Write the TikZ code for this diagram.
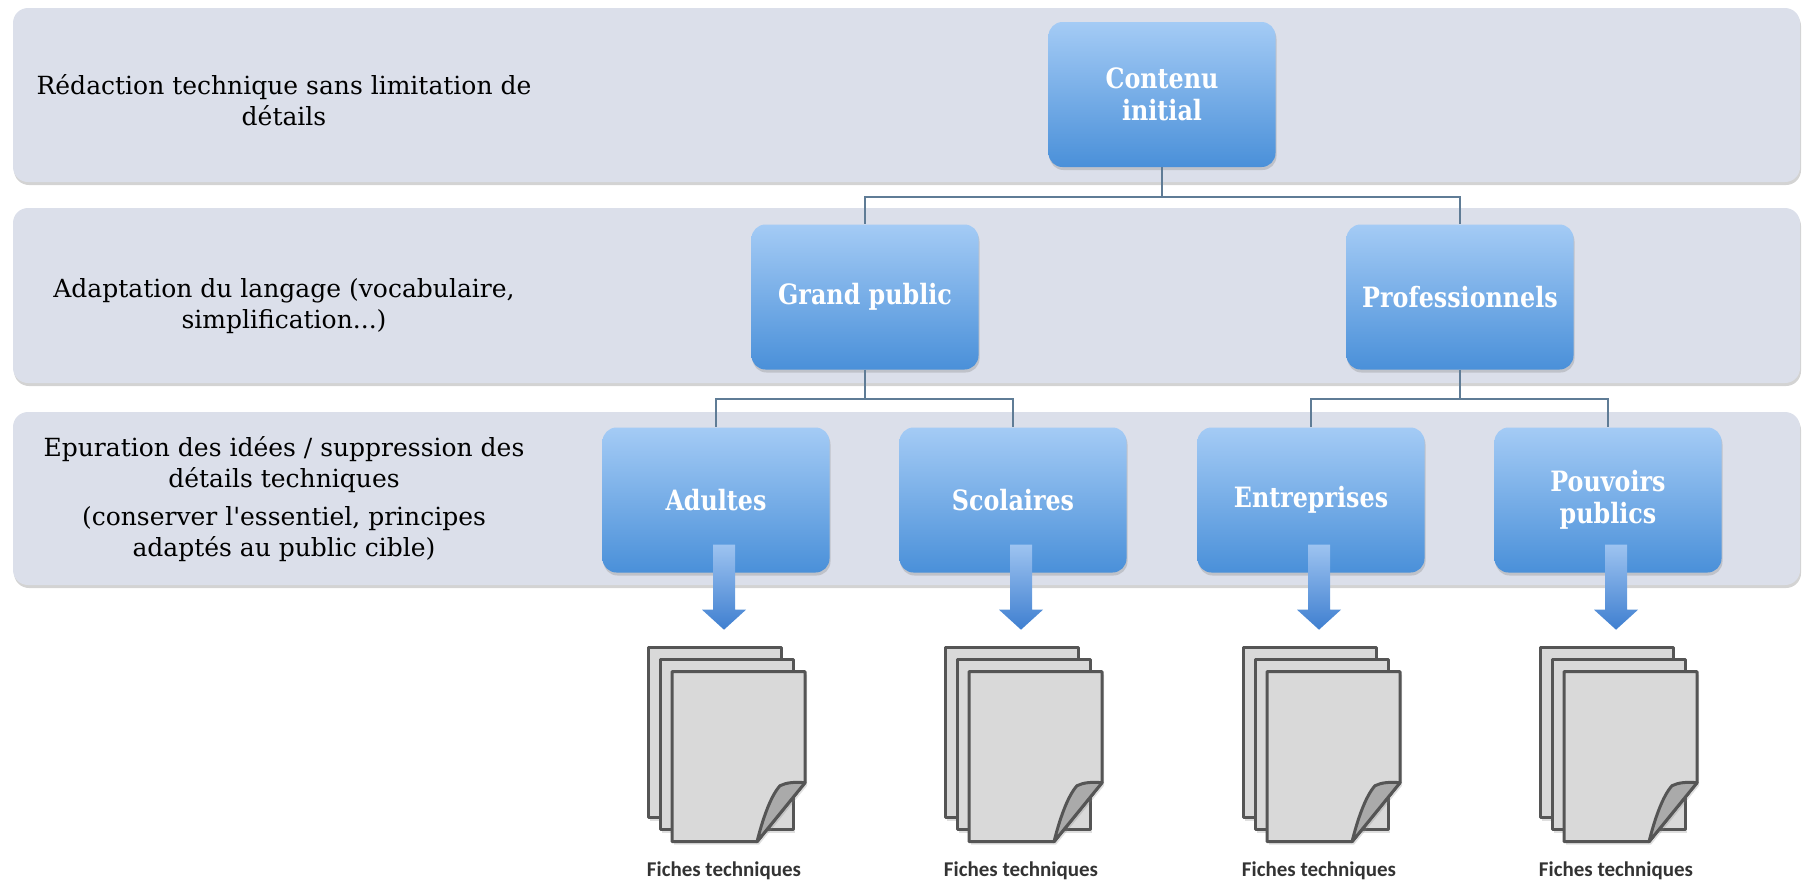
\documentclass[tikz,border=0pt]{standalone}
\usepackage{fontspec}
\setmainfont{DejaVu Serif}
\newfontfamily\boxfont[FakeStretch=0.85]{DejaVu Serif}
\newfontfamily\docfont{Carlito}
\usetikzlibrary{shadows,calc}

\definecolor{bandgray}{RGB}{219,223,234}
\definecolor{boxtop}{RGB}{164,203,245}
\definecolor{boxbot}{RGB}{74,144,217}
\definecolor{arrtop}{RGB}{157,195,240}
\definecolor{arrbot}{RGB}{63,127,208}
\definecolor{linkcol}{RGB}{95,124,150}
\definecolor{pagegray}{RGB}{217,217,217}
\definecolor{flapgray}{RGB}{170,170,170}
\definecolor{pageline}{RGB}{85,85,85}

\tikzset{
  band/.style={fill=bandgray, rounded corners=15pt, drop shadow={shadow xshift=1pt, shadow yshift=-3pt, opacity=.35}},
  lefttext/.style={align=center, font=\fontsize{25}{31}\selectfont, text=black},
  box/.style={rounded corners=14pt, top color=boxtop, bottom color=boxbot, minimum width=227pt, minimum height=145pt, align=center, text=white, font=\boxfont\bfseries\fontsize{28}{32}\selectfont, drop shadow={shadow xshift=1pt, shadow yshift=-3pt, opacity=.3}},
  link/.style={draw=linkcol, line width=2pt},
  page/.style={fill=pagegray, draw=pageline, line width=3pt, line join=round, drop shadow={shadow xshift=2pt, shadow yshift=-3pt, opacity=.25}},
  doclabel/.style={font=\docfont\bfseries\fontsize{21}{24}\selectfont, text=black!80}
}

\begin{document}
\begin{tikzpicture}[x=1pt, y=-1pt]
\useasboundingbox (0,0) rectangle (1803,884);

\foreach \t/\b in {8/182, 208/383, 412/585} \path[band] (13,\t) rectangle (1800,\b);

\node [lefttext] (t1) at (284,100) {Rédaction technique sans limitation de\\détails};
\node [lefttext] (t2) at (284,306) {Adaptation du langage (vocabulaire,\\simplification...)};
\node [lefttext] (t3) at (284,499) {Epuration des idées / suppression des\\détails techniques\\[7pt](conserver l\textquotesingle essentiel, principes\\adaptés au public cible)};

\node [box] (root) at (1162,94.5) {Contenu\\initial};
\node [box] (pub) at (865,297) {Grand public};
\node [box] (pro) at (1460,297) {Professionnels};
\node [box] (adu) at (716,500) {Adultes};
\node [box] (sco) at (1013,500) {Scolaires};
\node [box] (ent) at (1311,500) {Entreprises};
\node [box] (pou) at (1608,500) {Pouvoirs\\publics};

\coordinate (bus1) at (0,197);
\coordinate (bus2) at (0,399);
\draw [link] (root.south) -- (root.south |- bus1) -| (pub.north);
\draw [link] (root.south |- bus1) -| (pro.north);
\draw [link] (pub.south) -- (pub.south |- bus2) -| (adu.north);
\draw [link] (pub.south |- bus2) -| (sco.north);
\draw [link] (pro.south) -- (pro.south |- bus2) -| (ent.north);
\draw [link] (pro.south |- bus2) -| (pou.north);

\foreach \b in {adu,sco,ent,pou} {
  \shade [top color=arrtop, bottom color=arrbot] ($(\b.south)+(-3,-28)$) -- ++(22,0) -- ++(0,65) -- ++(11,0) -- ++(-22,20) -- ++(-22,-20) -- ++(11,0) -- cycle;
  \foreach \o in {75,87} \draw [page] ($(\b.south)+(-143+\o,\o)$) rectangle ++(133,170);
  \coordinate (f) at ($(\b.south)+(-44,99)$);
  \draw [page] (f) -- ++(133,0) -- ++(0,111) -- ++(-48,59) -- ++(-85,0) -- cycle;
  \filldraw [fill=flapgray, draw=pageline, line width=3pt, line join=round] ($(f)+(133,111)$) .. controls ($(f)+(122,110)$) and ($(f)+(114,111)$) .. ($(f)+(108,114)$) .. controls ($(f)+(98,125)$) and ($(f)+(90,150)$) .. ($(f)+(85,170)$) -- cycle;
  \node [doclabel] (l\b) at ($(\b.south)+(8,298)$) {Fiches techniques};
}

\end{tikzpicture}
\end{document}
